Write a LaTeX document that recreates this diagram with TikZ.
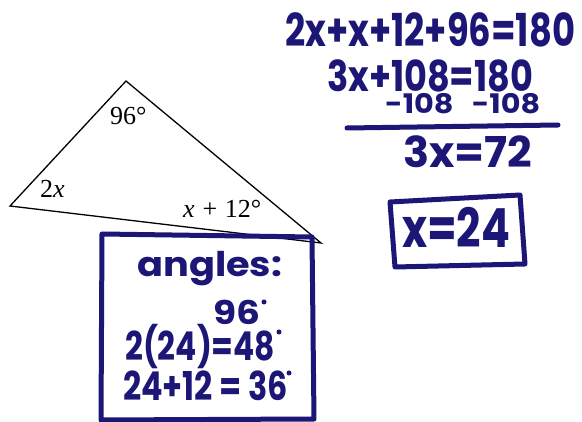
\documentclass[tikz,border=0pt]{standalone}
\usepackage{fontspec}
\usepackage{graphicx}
\setmainfont{Liberation Serif}
\newfontfamily\handfont{Poppins}
\definecolor{ink}{RGB}{28,22,118}
\newcommand\hwline[3]{\resizebox{#1pt}{#2pt}{\raisebox{0pt}[\fontcharht\font`0][0pt]{#3}}}
\begin{document}
\begin{tikzpicture}[x=1pt,y=-1pt,
  hw/.style={anchor=base west, inner sep=0pt, text=ink, font=\handfont\bfseries},
  lbl/.style={anchor=base west, inner sep=0pt, font=\fontsize{26}{30}\selectfont},
  inkbox/.style={draw=ink, line width=5pt, line join=round, line cap=round},
  inkdot/.style={circle, fill=ink, inner sep=0pt, minimum size=5pt},
  tri/.style={draw=black, line width=1.3pt}]
\fill[white] (0,0) rectangle (582,422);
\useasboundingbox (0,0) rectangle (582,422);
% triangle
\coordinate (A) at (126,81);
\coordinate (B) at (10,206);
\coordinate (C) at (321,243);
\draw[tri] (A) -- (B) -- (C) -- cycle;
\node[lbl] (t96) at (110,125) {96°};
\node[lbl] (t2x) at (40,198) {2\textit{x}};
\node[lbl] (tx12) at (183,218) {\textit{x}\hspace{0.3em}+\hspace{0.3em}12°};
% equations
\node[hw] (eq1) at (285,47) {\hwline{290}{32}{2x+x+12+96=180}};
\node[hw] (eq2) at (327,92) {\hwline{206}{30}{3x+108=180}};
\node[hw] (eq3) at (385,114) {\hwline{155}{19}{-108\hspace{0.6em}-108}};
\coordinate (r1) at (347,128);
\coordinate (r2) at (558,125);
\draw[ink, line width=5pt, line cap=round] (r1) -- (r2);
\node[hw] (eq4) at (403,168) {\hwline{129}{30}{3x=72}};
\node[hw] (eq5) at (402,248) {\hwline{108}{38}{x=24}};
\coordinate (b1) at (390,202);
\coordinate (b2) at (520,195);
\coordinate (b3) at (525,264);
\coordinate (b4) at (395,267);
\draw[inkbox] (b1) -- (b2) -- (b3) -- (b4) -- cycle;
% angles box
\coordinate (k1) at (102,234);
\coordinate (k2) at (312,237);
\coordinate (k3) at (314,419);
\coordinate (k4) at (101,420);
\draw[inkbox] (k1) -- (k2) -- (k3) -- (k4) -- cycle;
\node[hw] (an1) at (137,277) {\hwline{145}{24}{angles:}};
\node[hw] (an2) at (213,325) {\hwline{47}{23}{96}};
\node[inkdot] (d1) at (264,302) {};
\node[hw] (an3) at (125,361) {\hwline{150}{28}{2(24)=48}};
\node[inkdot] (d2) at (279,332) {};
\node[hw] (an4) at (123,401) {\hwline{165}{28}{24+12 = 36}};
\node[inkdot] (d3) at (289,373) {};
\end{tikzpicture}
\end{document}
